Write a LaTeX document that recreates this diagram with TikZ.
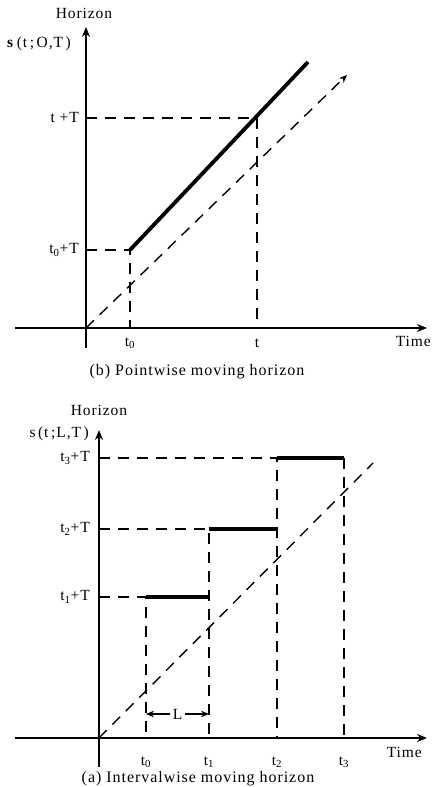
\documentclass[tikz,border=0pt]{standalone}
\usepackage{fontspec}
\setmainfont[LetterSpace=6]{Liberation Serif}
\usetikzlibrary{arrows.meta}
\tikzset{
  axis/.style={draw=black,line width=1.8pt,-{Stealth[length=10pt,width=8pt]}},
  guide/.style={draw=black,line width=1.4pt,dash pattern=on 11pt off 8pt},
  horizon/.style={draw=black,line width=3.8pt},
  span/.style={draw=black,line width=1.4pt,{Stealth[length=8pt,width=6.5pt]}-{Stealth[length=8pt,width=6.5pt]}},
  lbl/.style={font=\fontsize{15.5}{18}\selectfont,inner sep=1pt},
  caption/.style={font=\fontsize{16}{19}\selectfont,inner sep=1pt}
}
\begin{document}
\begin{tikzpicture}[x=1pt,y=1pt]
  \useasboundingbox (0,0) rectangle (432,787);
  % (b) pointwise moving horizon
  \begin{scope}[shift={(86,459)}]
    \coordinate (b-o) at (0,0);
    \coordinate (b-yb) at (0,-20);
    \coordinate (b-yt) at (0,301);
    \coordinate (b-xl) at (-71,0);
    \coordinate (b-xr) at (341,0);
    \coordinate (b-t0) at (44,0);
    \coordinate (b-t) at (171,0);
    \coordinate (b-h0) at (0,78);
    \coordinate (b-h) at (0,210);
    \coordinate (b-end) at (222,266);
    \coordinate (b-diag) at (261,253);
    \draw[axis] (b-yb) -- (b-yt);
    \draw[axis] (b-xl) -- (b-xr);
    \draw[guide] (b-h0) -- (b-t0 |- b-h0) -- (b-t0);
    \draw[guide] (b-h) -- (b-t |- b-h) -- (b-t);
    \draw[guide,-{Stealth[length=8pt,width=6.5pt]}] (b-o) -- (b-diag);
    \draw[horizon] (b-t0 |- b-h0) -- (b-end);
    \node[lbl] (b-hz) at (-2,315) {Horizon};
    \node[lbl,anchor=east] (b-s) at (-14,284) {\textbf{s}\,(t\,;\,O,T\,)};
    \node[lbl,anchor=east] (b-lh) at (-6,210) {t +T};
    \node[lbl,anchor=east] (b-lh0) at (-6,78) {t\textsubscript{0}+T};
    \node[lbl] (b-lt0) at (44,-15) {t\textsubscript{0}};
    \node[lbl] (b-lt) at (171,-15) {t};
    \node[lbl,anchor=east] (b-time) at (346,-13) {Time};
    \node[caption] (b-cap) at (111,-44) {(b) Pointwise moving horizon};
  \end{scope}
  % (a) intervalwise moving horizon
  \begin{scope}[shift={(99,49)}]
    \coordinate (a-o) at (0,0);
    \coordinate (a-yb) at (0,-29);
    \coordinate (a-yt) at (0,308);
    \coordinate (a-xl) at (-84,0);
    \coordinate (a-xr) at (328,0);
    \coordinate (a-t0) at (47,0);
    \coordinate (a-t1) at (110,0);
    \coordinate (a-t2) at (178,0);
    \coordinate (a-t3) at (245,0);
    \coordinate (a-h1) at (0,141);
    \coordinate (a-h2) at (0,209);
    \coordinate (a-h3) at (0,280);
    \coordinate (a-diag) at (274,275);
    \draw[axis] (a-yb) -- (a-yt);
    \draw[axis] (a-xl) -- (a-xr);
    \draw[guide] (a-o) -- (a-diag);
    \draw[guide] (a-h1) -- (a-t0 |- a-h1) -- (a-t0);
    \draw[guide] (a-h2) -- (a-t1 |- a-h2) -- (a-t1);
    \draw[guide] (a-h3) -- (a-t2 |- a-h3) -- (a-t2);
    \draw[guide] (a-t3 |- a-h3) -- (a-t3);
    \draw[horizon] (a-t0 |- a-h1) -- (a-t1 |- a-h1);
    \draw[horizon] (a-t1 |- a-h2) -- (a-t2 |- a-h2);
    \draw[horizon] (a-t2 |- a-h3) -- (a-t3 |- a-h3);
    \coordinate (a-l0) at (47,24);
    \coordinate (a-l1) at (110,24);
    \draw[span] (a-l0) -- node[lbl,fill=white,inner sep=3pt] {L} (a-l1);
    \node[lbl] (a-hz) at (0,328) {Horizon};
    \node[lbl,anchor=east] (a-s) at (-9,304) {s\,(t\,;L,T\,)};
    \node[lbl,anchor=east] (a-lh1) at (-8,141) {t\textsubscript{1}+T};
    \node[lbl,anchor=east] (a-lh2) at (-8,209) {t\textsubscript{2}+T};
    \node[lbl,anchor=east] (a-lh3) at (-8,280) {t\textsubscript{3}+T};
    \node[lbl] (a-lt0) at (47,-24) {t\textsubscript{0}};
    \node[lbl] (a-lt1) at (110,-24) {t\textsubscript{1}};
    \node[lbl] (a-lt2) at (178,-24) {t\textsubscript{2}};
    \node[lbl] (a-lt3) at (245,-24) {t\textsubscript{3}};
    \node[lbl,anchor=east] (a-time) at (324,-14) {Time};
    \node[caption] (a-cap) at (99,-41) {(a) Intervalwise moving horizon};
  \end{scope}
\end{tikzpicture}
\end{document}
